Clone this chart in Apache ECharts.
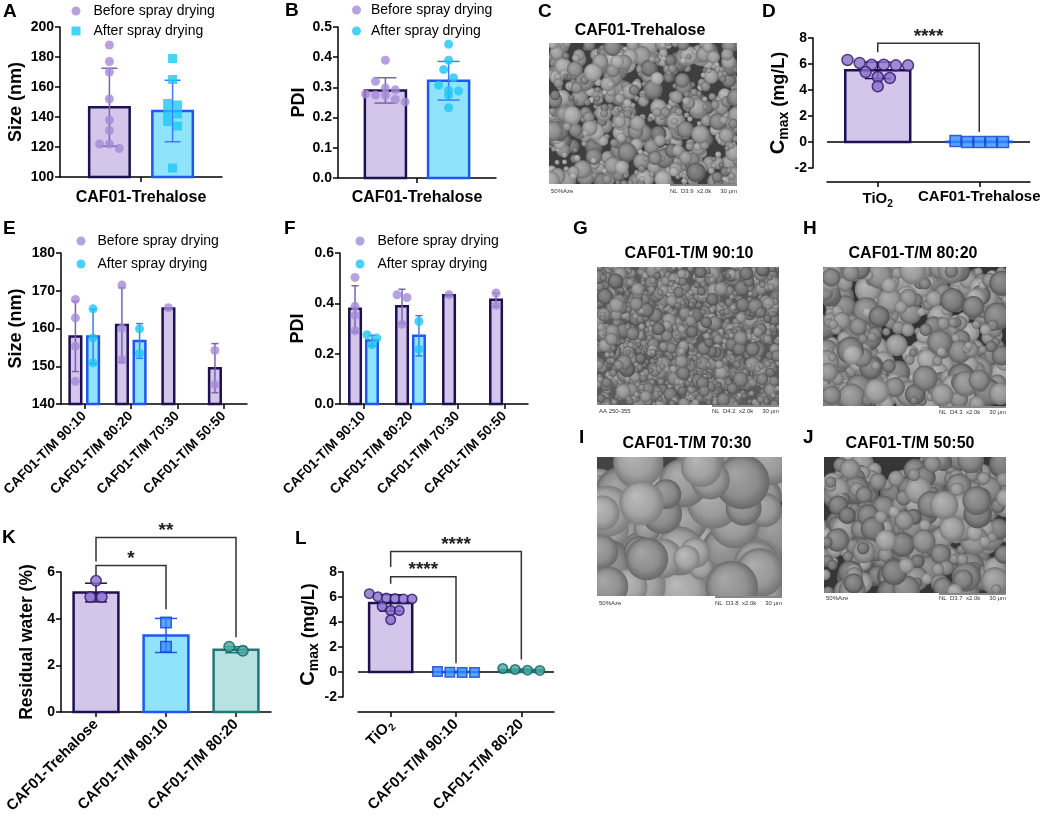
<!DOCTYPE html>
<html lang="en">
<head>
<meta charset="utf-8">
<title>CAF01 spray drying</title>
<script src="https://cdn.jsdelivr.net/npm/echarts@6.0.0/dist/echarts.min.js"></script>
<style>
  html, body { margin: 0; padding: 0; background: #fff; }
  #chart { width: 1045px; height: 820px; }
</style>
</head>
<body>
<div id="chart"></div>
<script>
// ===== values =====

// A - particle size before / after spray drying
const aCats = ['CAF01-Trehalose'];
const aYTicks = [100, 120, 140, 160, 180, 200];
const aBeforePts = [[188, 177, 170, 152, 138, 131, 122, 122, 119]];
const aBeforeMean = [146.5];
const aBeforeSd = [26];
const aAfterPts = [[179, 165, 149, 148, 143, 142, 137, 134, 106]];
const aAfterMean = [144];
const aAfterSd = [20.5];

// B - PDI
const bCats = ['CAF01-Trehalose'];
const bYTicks = [0, 0.1, 0.2, 0.3, 0.4, 0.5];
const bBeforePts = [[0.39, 0.32, 0.298, 0.292, 0.278, 0.275, 0.275, 0.26, 0.252]];
const bBeforeMean = [0.290];
const bBeforeSd = [0.042];
const bAfterPts = [[0.443, 0.39, 0.359, 0.332, 0.307, 0.29, 0.288, 0.274, 0.233]];
const bAfterMean = [0.322];
const bAfterSd = [0.064];

// D - Cmax
const dCats = ['TiO2', 'CAF01-Trehalose'];
const dYTicks = [-2, 0, 2, 4, 6, 8];
const dPts = [[6.31, 6.08, 5.95, 5.95, 5.9, 5.9, 5.38, 5.0, 4.92, 4.28], [0.08, 0, 0, 0, 0]];
const dMean = [5.51, 0.02];
const dSd = [0.63, 0.03];
const dBrackets = [[0, 1, 7.6, 6.9, 0.77]];
const dStars = ['****'];

// E - size, trehalose/mannitol ratios
const eCats = ['CAF01-T/M 90:10', 'CAF01-T/M 80:20', 'CAF01-T/M 70:30', 'CAF01-T/M 50:50'];
const eYTicks = [140, 150, 160, 170, 180];
const eBeforePts = [[167.7, 162.8, 155.3, 146.0], [171.5, 160.1, 151.8], [165.5], [154.2, 145.1]];
const eBeforeMean = [157.9, 160.9, 165.3, 149.5];
const eBeforeSd = [9.3, 9.9, 0, 6.5];
const eAfterPts = [[165.2, 157.5, 150.9], [159.9, 153.4], [], []];
const eAfterMean = [157.9, 156.7, null, null];
const eAfterSd = [7.2, 4.6, 0, 0];

// F - PDI, trehalose/mannitol ratios
const fCats = eCats;
const fYTicks = [0, 0.2, 0.4, 0.6];
const fBeforePts = [[0.503, 0.388, 0.352, 0.291], [0.434, 0.423, 0.317], [0.434], [0.441, 0.392]];
const fBeforeMean = [0.378, 0.388, 0.432, 0.414];
const fBeforeSd = [0.092, 0.068, 0, 0.027];
const fAfterPts = [[0.275, 0.262, 0.235], [0.328, 0.218], [], []];
const fAfterMean = [0.252, 0.271, null, null];
const fAfterSd = [0.021, 0.08, 0, 0];

// K - residual water
const kCats = ['CAF01-Trehalose', 'CAF01-T/M 90:10', 'CAF01-T/M 80:20'];
const kYTicks = [0, 2, 4, 6];
const kPts = [[5.62, 4.93, 4.93], [3.84, 2.80], [2.80, 2.62]];
const kMean = [5.12, 3.28, 2.67];
const kSd = [0.4, 0.73, 0.13];
const kBrackets = [[0, 1, 6.28, 5.85, 4.4], [0, 2, 7.48, 6.45, 3.2]];
const kStars = ['*', '**'];

// L - Cmax
const lCats = ['TiO2', 'CAF01-T/M 90:10', 'CAF01-T/M 80:20'];
const lYTicks = [-2, 0, 2, 4, 6, 8];
const lPts = [[6.27, 6.03, 5.93, 5.88, 5.85, 5.85, 5.24, 4.92, 4.92, 4.18], [0.05, -0.02, -0.03, -0.03], [0.28, 0.2, 0.15, 0.13]];
const lMean = [5.53, 0, 0.17];
const lSd = [0.65, 0.04, 0.06];
const lBrackets = [[0, 1, 7.63, 7.07, 0.7], [0, 2, 9.64, 8.4, 1.0]];
const lStars = ['****', '****'];

// ===== styles =====
const FONT = '"Liberation Sans", Arial, Helvetica, sans-serif';
const PURPLE = { fill: '#d3c6ea', stroke: '#1f1150', err: '#7563b5', point: '#a48bd6', symbol: 'circle' };
const CYAN_SQ = { fill: '#8fe4fb', stroke: '#1d58f2', err: '#3c7cff', point: '#1ec6f4', symbol: 'rect' };
const CYAN = Object.assign({}, CYAN_SQ, { symbol: 'circle' });
const TIO2 = { fill: '#d3c6ea', stroke: '#1f1150', err: '#1f1150', point: '#8a6dcb', pointBorder: '#2a1868', symbol: 'circle', spread: 0.9 };
const BLUE = { fill: '#8fe4fb', stroke: '#1d58f2', err: '#1d58f2', point: '#2f8fff', pointBorder: '#1642c4', symbol: 'rect', spread: 1.3 };
const TEAL = { fill: '#b8e2e2', stroke: '#1f7878', err: '#1f7878', point: '#4aa8a4', pointBorder: '#0f605c', symbol: 'circle', spread: 1.3 };

const CMAX_NAME = '{c|C}{m|max}{u| (mg/L)}';
const CMAX_RICH = {
  c: { fontSize: 20, fontWeight: 'bold', fontFamily: FONT, color: '#000', lineHeight: 24 },
  m: { fontSize: 14, fontWeight: 'bold', fontFamily: FONT, color: '#000', lineHeight: 12, verticalAlign: 'bottom' },
  u: { fontSize: 18, fontWeight: 'bold', fontFamily: FONT, color: '#000', lineHeight: 24 }
};

const grids = [], xAxes = [], yAxes = [], series = [], legends = [], graphics = [];

function pick(style, i) { return Array.isArray(style) ? style[i] : style; }

// GraphPad-like scatter: points closer than one symbol vertically share a row, rows are centred
function swarm(values, pxPerY, pxPerCat, size, spread) {
  const off = values.map(() => 0);
  let row = [];
  const flush = () => {
    row.forEach((idx, j) => { off[idx] = (j - (row.length - 1) / 2) * size * spread / pxPerCat; });
    row = [];
  };
  values.forEach((v, i) => {
    if (row.length && Math.abs(values[row[0]] - v) * pxPerY >= size) flush();
    row.push(i);
  });
  flush();
  return off;
}

function catLabel(name) {
  return name === 'TiO2' ? '{n|TiO}{s|2}' : name;
}

function addPanel(p) {
  const gi = grids.length;
  const n = p.cats.length;
  const t = p.yTicks;
  const yMin = t[0], yMax = t[t.length - 1];
  const base = Math.max(0, yMin);
  const pxPerY = p.grid.height / (yMax - yMin);
  const pxPerCat = p.grid.width / n;
  const idx = p.cats.map((c, i) => i);
  const axisLine = { color: '#000', width: 1.5 };

  grids.push(Object.assign({ outerBoundsMode: 'none', containLabel: false }, p.grid));
  xAxes.push({
    type: 'value', gridIndex: gi, min: -0.5, max: n - 0.5, offset: p.xOffset || 0,
    axisLine: { show: true, onZero: false, lineStyle: axisLine },
    axisTick: { show: true, customValues: idx, length: 5, lineStyle: axisLine },
    axisLabel: {
      show: true, customValues: idx, formatter: v => catLabel(p.cats[Math.round(v)]),
      rotate: p.rotate || 0, margin: p.labelMargin, fontSize: p.labelSize, fontWeight: 'bold',
      color: '#000', fontFamily: FONT,
      rich: {
        n: { fontSize: p.labelSize, fontWeight: 'bold', fontFamily: FONT, color: '#000', lineHeight: 20 },
        s: { fontSize: p.labelSize * 0.68, fontFamily: FONT, color: '#000', lineHeight: 10, verticalAlign: 'bottom' }
      }
    },
    splitLine: { show: false }
  });
  yAxes.push({
    type: 'value', gridIndex: gi, min: yMin, max: yMax, interval: t[1] - t[0], offset: p.yOffset || 0,
    axisLine: { show: true, onZero: false, lineStyle: axisLine },
    axisTick: { show: true, length: 5, lineStyle: axisLine },
    axisLabel: { fontSize: 14, fontWeight: 'bold', color: '#000', fontFamily: FONT, margin: 6, formatter: p.yFmt || (v => String(v)) },
    splitLine: { show: false },
    name: p.yName, nameLocation: 'middle', nameGap: p.nameGap,
    nameTextStyle: { fontSize: p.nameSize || 18, fontWeight: 'bold', color: '#000', fontFamily: FONT, rich: p.nameRich }
  });

  const common = { xAxisIndex: gi, yAxisIndex: gi, animation: false, silent: true };

  if (p.zeroLine) {
    series.push(Object.assign({
      type: 'custom', clip: false, data: [[0, 0]],
      renderItem: (params, api) => {
        const a = api.coord([-0.5, 0]), b = api.coord([n - 0.5, 0]);
        return { type: 'line', shape: { x1: a[0], y1: a[1], x2: b[0], y2: b[1] }, style: { stroke: '#000', lineWidth: 1.5 } };
      }
    }, common));
  }

  p.groups.forEach(g => {
    const barData = [], barStyle = [], errData = [], errColor = [], ptData = [];
    g.mean.forEach((m, ci) => {
      if (m == null) return;
      const st = pick(g.style, ci);
      const x = ci + g.offset;
      barData.push([x, m]);
      barStyle.push(st);
      if (g.sd[ci]) { errData.push([x, m, g.sd[ci]]); errColor.push(st.err); }
      const vals = g.pts[ci];
      const dx = swarm(vals, pxPerY, pxPerCat, p.symbolSize, st.spread || 1.1);
      vals.forEach((v, k) => ptData.push({
        value: [x + dx[k], v], symbol: st.symbol,
        itemStyle: { color: st.point, borderColor: st.pointBorder || st.point, borderWidth: st.pointBorder ? 1.5 : 0 }
      }));
    });

    series.push(Object.assign({
      type: 'custom', clip: false, data: barData,
      renderItem: (params, api) => {
        const st = barStyle[params.dataIndex];
        const x = api.value(0), y = api.value(1);
        const a = api.coord([x - p.barWidth / 2, y]);
        const b = api.coord([x + p.barWidth / 2, base]);
        return {
          type: 'rect',
          shape: { x: a[0], y: Math.min(a[1], b[1]), width: b[0] - a[0], height: Math.abs(b[1] - a[1]) },
          style: { fill: st.fill, stroke: st.stroke, lineWidth: 2.5 }
        };
      }
    }, common));

    series.push(Object.assign({
      type: 'custom', clip: false, data: errData,
      renderItem: (params, api) => {
        const c = errColor[params.dataIndex];
        const x = api.value(0), m = api.value(1), s = api.value(2);
        const top = api.coord([x, m + s]), bot = api.coord([x, m - s]);
        const h = p.cap / 2, ls = { stroke: c, lineWidth: 1.5 };
        return {
          type: 'group', children: [
            { type: 'line', shape: { x1: top[0], y1: top[1], x2: bot[0], y2: bot[1] }, style: ls },
            { type: 'line', shape: { x1: top[0] - h, y1: top[1], x2: top[0] + h, y2: top[1] }, style: ls },
            { type: 'line', shape: { x1: bot[0] - h, y1: bot[1], x2: bot[0] + h, y2: bot[1] }, style: ls }
          ]
        };
      }
    }, common));

    const first = pick(g.style, 0);
    series.push(Object.assign({
      type: 'scatter', name: g.name || ('pts' + gi), data: ptData,
      symbol: first.symbol, symbolSize: p.symbolSize, itemStyle: { color: first.point }, z: 3
    }, common));
  });

  if (p.brackets) {
    series.push(Object.assign({
      type: 'custom', clip: false, data: p.brackets, z: 4,
      renderItem: (params, api) => {
        const i = params.dataIndex;
        const f = api.value(0), to = api.value(1), y = api.value(2), fe = api.value(3), te = api.value(4);
        const P1 = api.coord([f, fe]), P2 = api.coord([f, y]), P3 = api.coord([to, y]), P4 = api.coord([to, te]);
        return {
          type: 'group', children: [
            { type: 'polyline', shape: { points: [P1, P2, P3, P4] }, style: { stroke: '#333', lineWidth: 1.5, fill: null } },
            { type: 'text', x: (P2[0] + P3[0]) / 2, y: P2[1] + 3,
              style: { text: p.stars[i], fontSize: 19, fontWeight: 'bold', fontFamily: FONT, fill: '#222', align: 'center', verticalAlign: 'bottom' } }
          ]
        };
      }
    }, common));
  }
}

function addLegend(left, top, gap, padLeft, afterIcon) {
  legends.push({
    left: left, top: top, orient: 'vertical', itemWidth: 9, itemHeight: 9, itemGap: gap, padding: 0, selectedMode: false,
    textStyle: { fontSize: 14, color: '#000', fontFamily: FONT, padding: [0, 0, 0, padLeft] },
    data: [
      { name: 'Before spray drying', icon: 'circle', itemStyle: { color: PURPLE.point } },
      { name: 'After spray drying', icon: afterIcon, itemStyle: { color: CYAN.point } }
    ]
  });
}

const fmt1 = v => v.toFixed(1);

addPanel({
  grid: { left: 60, top: 27, width: 162, height: 150 },
  cats: aCats, yTicks: aYTicks, yName: 'Size (nm)', nameGap: 35,
  labelSize: 16, labelMargin: 13, symbolSize: 9, cap: 16, barWidth: 0.25,
  groups: [
    { name: 'Before spray drying', offset: -0.195, pts: aBeforePts, mean: aBeforeMean, sd: aBeforeSd, style: PURPLE },
    { name: 'After spray drying', offset: 0.195, pts: aAfterPts, mean: aAfterMean, sd: aAfterSd, style: CYAN_SQ }
  ]
});
addPanel({
  grid: { left: 338, top: 27, width: 158, height: 151 },
  cats: bCats, yTicks: bYTicks, yName: 'PDI', nameGap: 30, yFmt: fmt1,
  labelSize: 16, labelMargin: 12, symbolSize: 9, cap: 22, barWidth: 0.26,
  groups: [
    { name: 'Before spray drying', offset: -0.2, pts: bBeforePts, mean: bBeforeMean, sd: bBeforeSd, style: PURPLE },
    { name: 'After spray drying', offset: 0.2, pts: bAfterPts, mean: bAfterMean, sd: bAfterSd, style: CYAN }
  ]
});
addPanel({
  grid: { left: 827, top: 38, width: 203, height: 130 },
  cats: dCats, yTicks: dYTicks, yName: CMAX_NAME, nameRich: CMAX_RICH, nameGap: 18,
  xOffset: 14, yOffset: 14, zeroLine: true,
  labelSize: 15, labelMargin: 7, symbolSize: 11, cap: 26, barWidth: 0.64,
  groups: [{ offset: 0, pts: dPts, mean: dMean, sd: dSd,
    style: [Object.assign({}, TIO2, { spread: 1.1 }), Object.assign({}, BLUE, { spread: 1.08 })] }],
  brackets: dBrackets, stars: dStars
});
addPanel({
  grid: { left: 61, top: 253, width: 186, height: 151 },
  cats: eCats, yTicks: eYTicks, yName: 'Size (nm)', nameGap: 36,
  rotate: 45, labelSize: 13.7, labelMargin: 10, symbolSize: 9, cap: 7, barWidth: 0.25,
  groups: [
    { name: 'Before spray drying', offset: -0.19, pts: eBeforePts, mean: eBeforeMean, sd: eBeforeSd, style: PURPLE },
    { name: 'After spray drying', offset: 0.19, pts: eAfterPts, mean: eAfterMean, sd: eAfterSd, style: CYAN }
  ]
});
addPanel({
  grid: { left: 340, top: 253, width: 188, height: 151 },
  cats: fCats, yTicks: fYTicks, yName: 'PDI', nameGap: 33, yFmt: fmt1,
  rotate: 45, labelSize: 13.7, labelMargin: 10, symbolSize: 9, cap: 7, barWidth: 0.245,
  groups: [
    { name: 'Before spray drying', offset: -0.18, pts: fBeforePts, mean: fBeforeMean, sd: fBeforeSd, style: PURPLE },
    { name: 'After spray drying', offset: 0.18, pts: fAfterPts, mean: fAfterMean, sd: fAfterSd, style: CYAN }
  ]
});
addPanel({
  grid: { left: 61, top: 572, width: 210, height: 140 },
  cats: kCats, yTicks: kYTicks, yName: 'Residual water (%)', nameGap: 25, nameSize: 17.5,
  rotate: 45, labelSize: 15, labelMargin: 10, symbolSize: 10.5, cap: 22, barWidth: 0.64,
  groups: [{ offset: 0, pts: kPts, mean: kMean, sd: kSd, style: [Object.assign({}, TIO2, { spread: 1.1 }), BLUE, TEAL] }],
  brackets: kBrackets, stars: kStars
});
addPanel({
  grid: { left: 358, top: 572, width: 196, height: 125 },
  cats: lCats, yTicks: lYTicks, yName: CMAX_NAME, nameRich: CMAX_RICH, nameGap: 22,
  xOffset: 15, yOffset: 15, zeroLine: true,
  rotate: 45, labelSize: 15, labelMargin: 10, symbolSize: 9.5, cap: 22, barWidth: 0.66,
  groups: [{ offset: 0, pts: lPts, mean: lMean, sd: lSd, style: [TIO2, BLUE, TEAL] }],
  brackets: lBrackets, stars: lStars
});

addLegend(71.5, 4, 6, 8, 'rect');
addLegend(352, 3, 7, 5, 'circle');
addLegend(76.5, 234, 9, 7, 'circle');
addLegend(355.5, 234, 9, 8, 'circle');

// ===== panel letters =====
[['A', 3, 12], ['B', 285, 11], ['C', 538, 12], ['D', 762, 12], ['E', 3, 229], ['F', 284, 229],
 ['G', 573, 229], ['H', 803, 229], ['I', 579, 438], ['J', 803, 438], ['K', 2, 538], ['L', 295, 539]]
  .forEach(([txt, x, y]) => graphics.push({
    type: 'text', x: x, y: y, silent: true,
    style: { text: txt, fontSize: 19, fontWeight: 'bold', fontFamily: FONT, fill: '#000', verticalAlign: 'middle' }
  }));

// ===== SEM micrograph stand-ins (procedural grey texture) =====
function shade(v) { v = Math.max(0, Math.min(255, Math.round(v))); return 'rgb(' + v + ',' + v + ',' + v + ')'; }
function semTexture(w, h, o) {
  const k = 2;
  const cv = document.createElement('canvas');
  cv.width = w * k; cv.height = h * k;
  const ctx = cv.getContext('2d');
  ctx.scale(k, k);
  let s = o.seed >>> 0;
  const rnd = () => { s = (Math.imul(s, 1664525) + 1013904223) >>> 0; return s / 4294967296; };
  ctx.fillStyle = o.bg; ctx.fillRect(0, 0, w, h);
  for (let i = 0; i < o.count; i++) {
    const cx = rnd() * w, cy = rnd() * h;
    const r = o.rMin + (o.rMax - o.rMin) * Math.pow(rnd(), o.skew);
    const L = o.lMin + rnd() * (o.lMax - o.lMin);
    const g = ctx.createRadialGradient(cx - r * 0.3, cy - r * 0.35, r * 0.05, cx, cy, r);
    g.addColorStop(0, shade(L + 22));
    g.addColorStop(0.65, shade(L));
    g.addColorStop(1, shade(L - 38));
    ctx.fillStyle = g;
    ctx.beginPath(); ctx.arc(cx, cy, r, 0, Math.PI * 2); ctx.fill();
  }
  return cv;
}

const semPanels = [
  { title: 'CAF01-Trehalose', tx: 640, ty: 31, x: 549, y: 43, w: 188, h: 141, foot: '50%Aze', info: 'NL  D3.9  x2.0k', fy: 191,
    tex: { seed: 11, bg: '#3e3e3e', count: 600, rMin: 2.5, rMax: 10, skew: 2, lMin: 115, lMax: 170 } },
  { title: 'CAF01-T/M 90:10', tx: 689, ty: 254, x: 597, y: 267, w: 182, h: 138, foot: 'AA 250-355', info: 'NL  D4.2  x2.0k', fy: 411,
    tex: { seed: 23, bg: '#5a5a5a', count: 1300, rMin: 2.5, rMax: 8, skew: 2.5, lMin: 110, lMax: 150 } },
  { title: 'CAF01-T/M 80:20', tx: 913, ty: 254, x: 823, y: 267, w: 183, h: 139, foot: '', info: 'NL  D4.3  x2.0k', fy: 412,
    tex: { seed: 37, bg: '#333333', count: 400, rMin: 4, rMax: 14, skew: 1.5, lMin: 120, lMax: 165 } },
  { title: 'CAF01-T/M 70:30', tx: 687, ty: 444, x: 597, y: 457, w: 185, h: 139, foot: '50%Aze', info: 'NL  D3.8  x2.0k', fy: 603,
    tex: { seed: 41, bg: '#444444', count: 110, rMin: 12, rMax: 28, skew: 1, lMin: 135, lMax: 165 } },
  { title: 'CAF01-T/M 50:50', tx: 910, ty: 444, x: 824, y: 457, w: 182, h: 136, foot: '50%Aze', info: 'NL  D3.7  x2.0k', fy: 598,
    tex: { seed: 53, bg: '#363636', count: 360, rMin: 5, rMax: 15, skew: 1.5, lMin: 115, lMax: 160 } }
];

semPanels.forEach(s => {
  const right = s.x + s.w;
  graphics.push({ type: 'image', x: s.x, y: s.y, silent: true, style: { image: semTexture(s.w, s.h, s.tex), width: s.w, height: s.h } });
  graphics.push({ type: 'text', x: s.tx, y: s.ty, silent: true,
    style: { text: s.title, fontSize: 16, fontWeight: 'bold', fontFamily: FONT, fill: '#000', align: 'center', verticalAlign: 'middle' } });
  graphics.push({ type: 'line', silent: true, shape: { x1: right - 67, y1: s.y + s.h + 1, x2: right, y2: s.y + s.h + 1 }, style: { stroke: '#111', lineWidth: 1 } });
  graphics.push({ type: 'text', x: right - 67, y: s.fy, silent: true,
    style: { text: s.info, fontSize: 6, fontFamily: FONT, fill: '#333', verticalAlign: 'middle' } });
  graphics.push({ type: 'text', x: right, y: s.fy, silent: true,
    style: { text: '30 μm', fontSize: 6, fontFamily: FONT, fill: '#333', align: 'right', verticalAlign: 'middle' } });
  if (s.foot) {
    graphics.push({ type: 'text', x: s.x + 2, y: s.fy, silent: true,
      style: { text: s.foot, fontSize: 6, fontFamily: FONT, fill: '#333', verticalAlign: 'middle' } });
  }
});

const chart = echarts.init(document.getElementById('chart'), null, { renderer: 'canvas' });
chart.setOption({
  animation: false,
  backgroundColor: '#fff',
  textStyle: { fontFamily: FONT },
  grid: grids,
  xAxis: xAxes,
  yAxis: yAxes,
  legend: legends,
  series: series,
  graphic: { elements: graphics }
});
</script>
</body>
</html>
